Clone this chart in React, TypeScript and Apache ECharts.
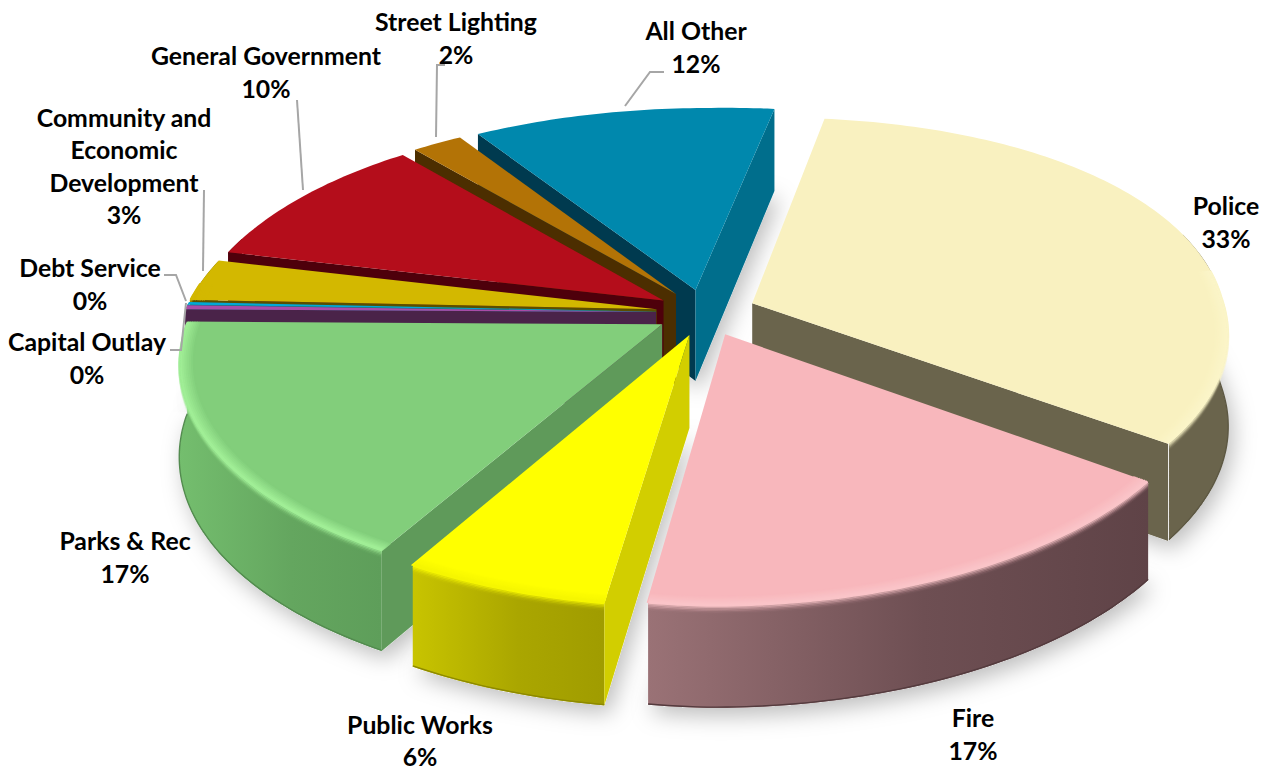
import React, { useEffect, useRef } from "react";
import * as echarts from "echarts";

// Share of the general fund by department, clockwise from the start angle.
const categories = ["Police", "Fire", "Public Works", "Parks & Rec", "Capital Outlay", "Debt Service", "Community and\nEconomic\nDevelopment", "General Government", "Street Lighting", "All Other"];
const shares = [33, 17, 6, 17, 0.3, 0.2, 3, 10, 2, 12];
const topColors = ["#F9F1C0", "#F8B7BC", "#FFFF00", "#82CE7B", "#A94CA8", "#00A8D8", "#D3B800", "#B40D1B", "#B37306", "#0088AD"];
const rimGlow = ["#FBF5C8", "#FAC4C8", "#F6F600", "#A0EE96", "#A94CA8", "#00A8D8", "#D3B800", "#B40D1B", "#B37306", "#0088AD"];
const wallLeft = ["#6A644C", "#9A7276", "#C8C400", "#74BE6E", "#4A2349", "#005A70", "#6E5F00", "#5E0810", "#5A3A04", "#006E8C"];
const wallRight = ["#6A644C", "#5F4347", "#A09C00", "#5E9E5A", "#4A2349", "#005A70", "#6E5F00", "#5E0810", "#5A3A04", "#006E8C"];
const startFace = ["#6A644C", "#654648", "#D2CE00", "#5F9A5A", "#4A2349", "#0A6E88", "#5A4E00", "#4E000B", "#4C2E00", "#003A4F"];
const endFace = ["#6A644C", "#654648", "#D2CE00", "#5F9A5A", "#4A2349", "#0A6E88", "#5A4E00", "#4E000B", "#4C2E00", "#006E8C"];

// Projection of the tilted pie onto the page.
const CX = 706;
const CY = 312.5;
const RADIUS = 472;
const SQUASH = 0.47;
const PERSPECTIVE = 0.155;
const THICKNESS = 92;
const THICKNESS_GROWTH = 0.1;
const EXPLODE = 0.106;
const START_ANGLE = 9.2;
const BACK_SKEW = 0.032;
const BACK_FLATTEN = 0.028;
const RIGHT_ROLL = 0.015;

// Label text positions and their leader lines.
const labelCentres: [number, number][] = [[1226, 222], [973, 734], [420, 740.5], [125, 557], [87, 358], [90, 284], [124, 166], [266, 72], [456, 38], [696, 47]];
const LINE_STEP = 32.6;
const leaders: [number, number][][] = [
  [[297, 100], [303, 190]],
  [[204, 190], [203, 271]],
  [[164, 275], [176, 275], [186, 301]],
  [[170, 350], [181, 350], [186, 303]],
  [[445, 65], [437, 65], [436, 137]],
  [[664, 72], [650, 72], [625, 106]],
];

const total = shares.reduce((a, b) => a + b, 0);

function project(x: number, y: number, depth: number): number[] {
  const w = 1 - PERSPECTIVE * y;
  const sx = CX + (RADIUS * x) / w;
  const roll = Math.max(0, sx - CX) * RIGHT_ROLL;
  return [sx, CY - roll + (RADIUS * SQUASH * y) / w + depth * THICKNESS * (1 + THICKNESS_GROWTH * y)];
}

function hex(c: string): number[] {
  return [1, 3, 5].map((i) => parseInt(c.slice(i, i + 2), 16));
}

function mix(a: string, b: string, t: number): string {
  const p = hex(a);
  const q = hex(b);
  return "rgb(" + p.map((v, i) => Math.round(v + (q[i] - v) * t)).join(",") + ")";
}

function sliceAngles(index: number): number[] {
  const before = shares.slice(0, index).reduce((a, b) => a + b, 0);
  const a0 = START_ANGLE + (before / total) * 360;
  return [a0, a0 + (shares[index] / total) * 360];
}

// Angular span of a slice whose rim lies nearer the viewer than the given depth.
function frontSpan(a0: number, a1: number, limit: number): number[] | null {
  const hits: number[] = [];
  for (let d = a0; d <= a1 + 0.001; d += 0.25) if (-Math.cos((d * Math.PI) / 180) > limit) hits.push(d);
  return hits.length > 1 ? [hits[0], hits[hits.length - 1]] : null;
}

function sliceElements(index: number) {
  const [a0, a1] = sliceAngles(index);
  const mid = (((a0 + a1) / 2) * Math.PI) / 180;
  const ex = EXPLODE * Math.sin(mid);
  const ey = -EXPLODE * Math.cos(mid);
  const point = (deg: number, r: number, depth: number) => {
    const t = (deg * Math.PI) / 180;
    const c = Math.cos(t);
    const back = Math.max(0, c);
    return project(ex + r * (Math.sin(t) + BACK_SKEW * back), ey - r * (c - BACK_FLATTEN * back * back * back), depth);
  };
  const order = Math.round((-Math.cos(mid) + 1) * 100) * 100 + 100;
  const arc = (r: number, depth: number, from = a0, to = a1) => {
    const steps = Math.max(2, Math.ceil(to - from));
    const pts: number[][] = [];
    for (let i = 0; i <= steps; i++) pts.push(point(from + ((to - from) * i) / steps, r, depth));
    return pts;
  };
  const apexTop = project(ex, ey, 0);
  const apexBottom = project(ex, ey, 1);
  const children: any[] = [];
  const poly = (points: number[][], fill: any, z2: number, extra: any = {}) =>
    children.push({ type: "polygon", silent: true, z2, shape: { points }, style: { fill, ...extra } });
  const line = (points: number[][], stroke: string, width: number, z2: number, opacity = 1) =>
    children.push({ type: "polyline", silent: true, z2, shape: { points }, style: { stroke, lineWidth: width, fill: "none", opacity } });

  // Soft cast shadow sits underneath every slice.
  poly([apexBottom, ...arc(1, 1)], "#ffffff", 1, { shadowBlur: 22, shadowColor: "rgba(0,0,0,0.26)", shadowOffsetX: 5, shadowOffsetY: 8 });

  // Outer wall with a left-to-right falloff, only where the rim faces the viewer.
  const wallSpan = frontSpan(a0, a1, -0.3);
  if (wallSpan) {
    const wallFill = new echarts.graphic.LinearGradient(0, 0, 1, 0, [
      { offset: 0, color: wallLeft[index] },
      { offset: 0.55, color: mix(wallLeft[index], wallRight[index], 0.75) },
      { offset: 1, color: wallRight[index] },
    ]);
    poly([...arc(1, 0, wallSpan[0], wallSpan[1]), ...arc(1, 1, wallSpan[0], wallSpan[1]).reverse()], wallFill, order);
  }

  // Cut faces show only when they open away from the slice's own top.
  const faceVisible = (deg: number) => {
    const rim = point(deg, 1, 0);
    const inner = point((a0 + a1) / 2, 0.9, 0);
    const ux = rim[0] - apexTop[0];
    const uy = rim[1] - apexTop[1];
    const side = ux * (apexBottom[1] - apexTop[1]);
    const own = ux * (inner[1] - apexTop[1]) - uy * (inner[0] - apexTop[0]);
    return side * own < 0;
  };
  if (faceVisible(a0)) poly([apexTop, point(a0, 1, 0), point(a0, 1, 1), apexBottom], startFace[index], order + 1);
  if (faceVisible(a1)) poly([apexTop, point(a1, 1, 0), point(a1, 1, 1), apexBottom], endFace[index], order + 1);

  poly([apexTop, ...arc(1, 0)], topColors[index], order + 3);

  // Bevel along the part of the rim that faces the viewer.
  const span = frontSpan(a0, a1, -0.12);
  if (span && span[1] - span[0] > 2) {
    const [from, to] = span;
    line(arc(1, 0.992, from, to), mix(wallRight[index], "#000000", 0.12), 1.4, order + 2);
    for (let i = 0; i < 8; i++) {
      const t = i / 7;
      line(arc(0.972 + 0.026 * t, 0, from, to), mix(topColors[index], rimGlow[index], t), 3, order + 4 + i);
    }
    for (let i = 0; i < 6; i++) {
      const t = i / 5;
      line(arc(1, 0.012 + 0.07 * t, from, to), rimGlow[index], 2, order + 12 + i, 0.6 * (1 - t) * (1 - t));
    }
  }
  return children;
}

function labelLines(index: number): string[] {
  return [...categories[index].split("\n"), Math.round((shares[index] / total) * 100) + "%"];
}

export default function App() {
  const ref = useRef<HTMLDivElement>(null);
  useEffect(() => {
    document.body.style.margin = "0";
    const chart = echarts.init(ref.current!, undefined, { renderer: "svg" });
    chart.setOption({
      animation: false,
      backgroundColor: "#ffffff",
      series: [
        {
          type: "custom",
          coordinateSystem: "none",
          silent: true,
          data: shares.map((v, i) => ({ name: categories[i], value: v })),
          renderItem: (params: any) => ({ type: "group", children: sliceElements(params.dataIndex) }),
        },
      ],
      graphic: [
        ...leaders.map((points) => ({
          type: "polyline",
          silent: true,
          z: 20,
          shape: { points },
          style: { stroke: "#A6A6A6", lineWidth: 2, fill: "none" },
        })),
        ...categories.flatMap((_, i) => {
          const lines = labelLines(i);
          return lines.map((text, n) => ({
            type: "text",
            silent: true,
            z: 21,
            x: labelCentres[i][0],
            y: labelCentres[i][1] + (n - (lines.length - 1) / 2) * LINE_STEP,
            style: {
              text,
              font: "bold 24.8px Lato",
              lineHeight: 25,
              fill: "#000000",
              align: "center",
              verticalAlign: "middle",
            },
          }));
        }),
      ],
    });
    return () => chart.dispose();
  }, []);
  return <div ref={ref} style={{ position: "fixed", left: 0, top: 0, width: 1270, height: 770 }} />;
}
